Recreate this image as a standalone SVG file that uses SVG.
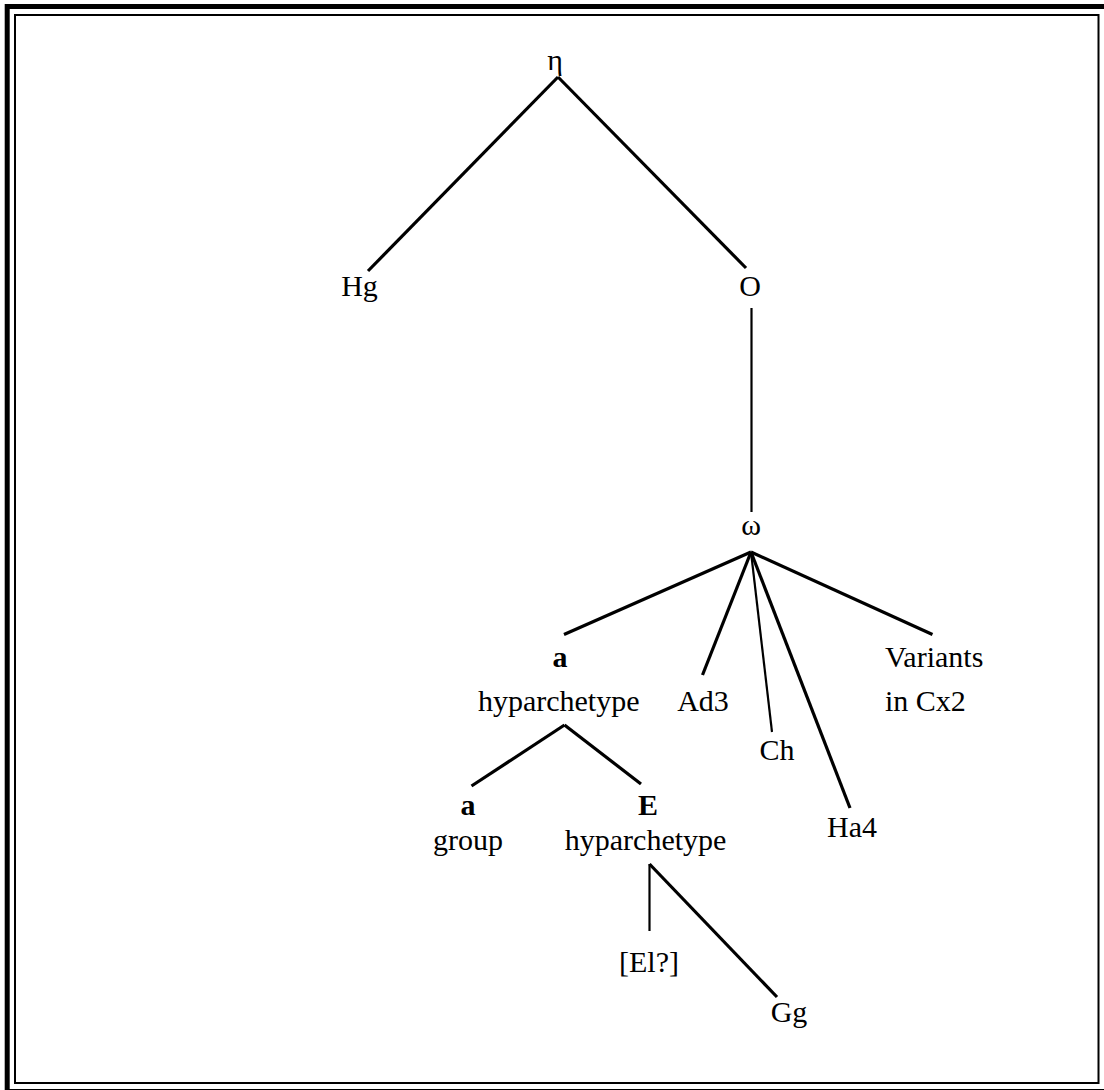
<svg xmlns="http://www.w3.org/2000/svg" width="1104" height="1090" viewBox="0 0 1104 1090">
<style>
text{font-family:"Liberation Serif","Times New Roman",serif;font-size:30px;fill:#000;text-anchor:middle}
.b{font-weight:bold}
.s{text-anchor:start}
#edges line{stroke:#000;stroke-width:3.2;stroke-linecap:butt}
#edges line.v{stroke-width:2.2}
</style>
<rect x="0" y="0" width="1104" height="1090" fill="#fff"/>
<g id="frame" fill="none" stroke="#000">
<rect x="7.2" y="6.5" width="1110" height="1085" stroke-width="5"/>
<rect x="15" y="15" width="1083.5" height="1068" stroke-width="2"/>
</g>
<g id="edges">
<line x1="558" y1="77" x2="368" y2="271"/>
<line x1="558" y1="77" x2="746" y2="268"/>
<line class="v" x1="751.5" y1="308" x2="751.5" y2="512"/>
<line x1="751" y1="552" x2="564" y2="634.5"/>
<line x1="751" y1="552" x2="702.5" y2="675"/>
<line class="v" x1="751" y1="552" x2="772" y2="732"/>
<line x1="751" y1="552" x2="850" y2="808"/>
<line x1="751" y1="552" x2="932.5" y2="634.5"/>
<line x1="564.5" y1="725" x2="471.5" y2="786"/>
<line x1="564.5" y1="725" x2="641" y2="784"/>
<line class="v" x1="649.5" y1="864" x2="649.5" y2="931"/>
<line x1="649.5" y1="864" x2="777" y2="997"/>
</g>
<g id="n-eta"><text x="555" y="70">η</text></g>
<g id="n-Hg"><text x="359.5" y="296">Hg</text></g>
<g id="n-O"><text x="750" y="296">O</text></g>
<g id="n-omega"><text x="751" y="535">ω</text></g>
<g id="n-a-hyp"><text class="b" x="560" y="667">a</text><text x="558.7" y="711">hyparchetype</text></g>
<g id="n-Ad3"><text x="703" y="711">Ad3</text></g>
<g id="n-Ch"><text x="777" y="760">Ch</text></g>
<g id="n-Ha4"><text x="852" y="837">Ha4</text></g>
<g id="n-Cx2"><text class="s" x="885" y="667">Variants</text><text class="s" x="885" y="711">in Cx2</text></g>
<g id="n-a-group"><text class="b" x="468" y="815">a</text><text x="468" y="850">group</text></g>
<g id="n-E-hyp"><text class="b" x="648" y="815">E</text><text x="645.6" y="850">hyparchetype</text></g>
<g id="n-El"><text x="649" y="972">[El?]</text></g>
<g id="n-Gg"><text x="789" y="1022">Gg</text></g>
</svg>
